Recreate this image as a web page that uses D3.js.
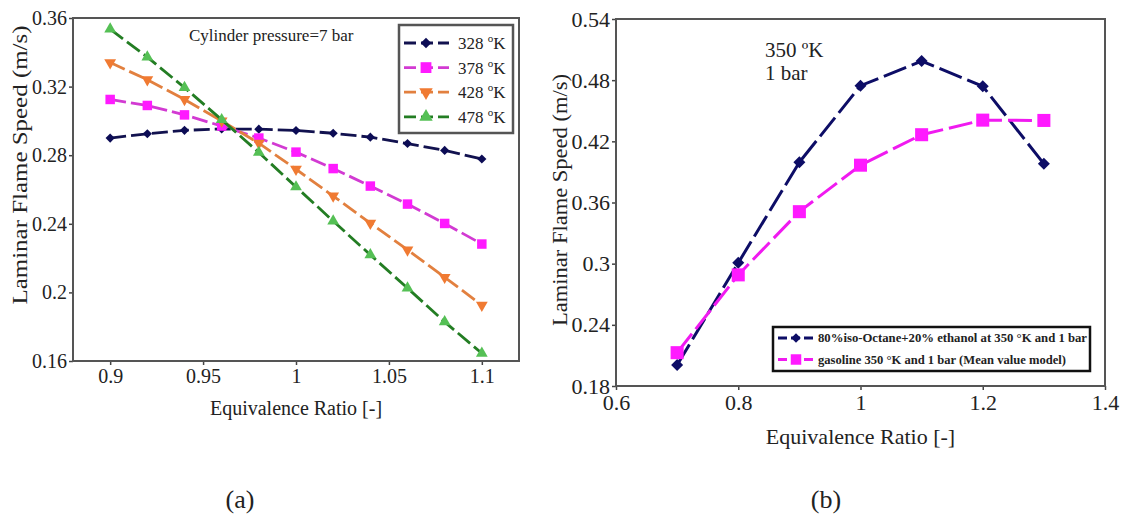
<!DOCTYPE html>
<html lang="en">
<head>
<meta charset="UTF-8">
<title>Laminar flame speed</title>
<script src="https://cdn.jsdelivr.net/npm/d3@7/dist/d3.min.js"></script>
<style>
  body { margin: 0; background: #fff; }
  text { font-family: "Liberation Serif", "Times New Roman", serif; fill: #222; }
</style>
</head>
<body>
<svg width="1125" height="518" id="mainsvg"></svg>
<script>
// ---- data (a): cylinder pressure 7 bar ----
const phiA = [0.9, 0.92, 0.94, 0.96, 0.98, 1.0, 1.02, 1.04, 1.06, 1.08, 1.1]
const s328 = [0.290, 0.2925, 0.2945, 0.2953, 0.2952, 0.2944, 0.2928, 0.2905, 0.2868, 0.2828, 0.2778]
const s378 = [0.3125, 0.309, 0.3035, 0.297, 0.290, 0.2818, 0.2722, 0.262, 0.2515, 0.2402, 0.2282]
const s428 = [0.334, 0.324, 0.3125, 0.300, 0.287, 0.2718, 0.2562, 0.2404, 0.2248, 0.2088, 0.1926]
const s478 = [0.3535, 0.3372, 0.3194, 0.3007, 0.2816, 0.2615, 0.2416, 0.2219, 0.2025, 0.1828, 0.1645]
const namesA = ['328', '378', '428', '478']
const xTicksA = [0.9, 0.95, 1, 1.05, 1.1]
const yTicksA = [0.16, 0.2, 0.24, 0.28, 0.32, 0.36]

// ---- data (b): 350 K, 1 bar ----
const phiB = [0.7, 0.8, 0.9, 1.0, 1.1, 1.2, 1.3]
const blend = [0.2005, 0.3008, 0.3995, 0.4746, 0.4987, 0.474, 0.398]
const gasoline = [0.2127, 0.289, 0.351, 0.3966, 0.4265, 0.4408, 0.4405]
const namesB = ['80%iso-Octane+20% ethanol at 350 °K and 1 bar', 'gasoline 350 °K and 1 bar (Mean value model)']
const xTicksB = [0.6, 0.8, 1, 1.2, 1.4]
const yTicksB = [0.18, 0.24, 0.3, 0.36, 0.42, 0.48, 0.54]

const svg = d3.select('#mainsvg')
const serif = '"Liberation Serif", "Times New Roman", serif'
const fmt = d => String(+d.toFixed(2))

// draws the boxed axes, returns scales
const drawFrame = function(g, o) {
    const x = d3.scaleLinear().domain(o.xd).range([o.left, o.right])
    const y = d3.scaleLinear().domain(o.yd).range([o.bottom, o.top])

    const xAxis = d3.axisBottom(x).tickValues(o.xt).tickFormat(fmt).tickSize(4).tickSizeOuter(0).tickPadding(4)
    const yAxis = d3.axisLeft(y).tickValues(o.yt).tickFormat(fmt).tickSize(4).tickSizeOuter(0).tickPadding(2)

    const xg = g.append('g').attr('transform', `translate(0,${o.bottom})`).call(xAxis)
    const yg = g.append('g').attr('transform', `translate(${o.left},0)`).call(yAxis)
    ;[xg, yg].forEach(a => {
        a.attr('font-family', serif)
        a.select('.domain').remove()
        a.selectAll('line').attr('stroke', '#444').attr('stroke-width', 1.5)
        a.selectAll('text').attr('font-size', o.fs).attr('fill', '#222')
    })

    g.append('rect')
        .attr('x', o.left).attr('y', o.top)
        .attr('width', o.right - o.left).attr('height', o.bottom - o.top)
        .attr('fill', 'none').attr('stroke', '#555').attr('stroke-width', 2)

    g.append('text').attr('x', (o.left + o.right) / 2).attr('y', o.xTitleY)
        .attr('text-anchor', 'middle').attr('font-size', o.fs).text('Equivalence Ratio [-]')

    g.append('text')
        .attr('transform', `translate(${o.yTitleX},${o.yTitleC}) rotate(-90)`)
        .attr('text-anchor', 'middle').attr('font-size', o.fs)
        .attr('textLength', o.yTitleLen).attr('lengthAdjust', 'spacingAndGlyphs')
        .text('Laminar Flame Speed (m/s)')
    return {x, y}
}

const marker = function(type, size) {
    if (type === 'diamond') return {p: d3.symbol(d3.symbolSquare, size)(), r: 45}
    if (type === 'square') return {p: d3.symbol(d3.symbolSquare, size)(), r: 0}
    if (type === 'up') return {p: d3.symbol(d3.symbolTriangle, size)(), r: 0}
    return {p: d3.symbol(d3.symbolTriangle, size)(), r: 180}
}

const drawSeries = function(g, sc, xs, ys, st) {
    const pts = xs.map((v, i) => [v, ys[i]])
    const line = d3.line().x(d => sc.x(d[0])).y(d => sc.y(d[1]))
    g.append('path').datum(pts)
        .attr('d', line).attr('fill', 'none')
        .attr('stroke', st.line).attr('stroke-width', st.w)
        .attr('stroke-dasharray', st.dash)
    const m = marker(st.shape, st.size)
    g.selectAll(null).data(pts).enter().append('path')
        .attr('d', m.p)
        .attr('transform', d => `translate(${sc.x(d[0])},${sc.y(d[1])}) rotate(${m.r})`)
        .attr('fill', st.mark)
}

// ---------- chart (a) ----------
const ga = svg.append('g')
const scA = drawFrame(ga, {
    xd: [0.88, 1.12], yd: [0.16, 0.36], left: 73, right: 519, top: 18, bottom: 361,
    xt: xTicksA, yt: yTicksA, fs: 20, xTitleY: 415, yTitleX: 27, yTitleC: 165, yTitleLen: 279
})

const stylesA = [
    {line: '#12124f', mark: '#0c0c55', shape: 'diamond', size: 42, w: 2.8, dash: '16,5'},
    {line: '#d23ad2', mark: '#ff1aff', shape: 'square', size: 90, w: 2.8, dash: '16,5'},
    {line: '#e2803f', mark: '#f07a32', shape: 'down', size: 60, w: 2.8, dash: '16,5'},
    {line: '#237d23', mark: '#55c055', shape: 'up', size: 60, w: 2.8, dash: '16,5'}
]
const seriesA = [s328, s378, s428, s478]
seriesA.forEach((s, i) => drawSeries(ga, scA, phiA, s, stylesA[i]))

ga.append('text').attr('x', 189).attr('y', 41).attr('font-size', 17).text('Cylinder pressure=7 bar')

// legend (a)
const legA = ga.append('g')
legA.append('rect').attr('x', 399).attr('y', 25).attr('width', 114).attr('height', 108)
    .attr('fill', '#fff').attr('stroke', '#555').attr('stroke-width', 2.5)
namesA.forEach((n, i) => {
    const cy = 43 + i * 24.6
    const st = stylesA[i]
    legA.append('line').attr('x1', 404).attr('x2', 449).attr('y1', cy).attr('y2', cy)
        .attr('stroke', st.line).attr('stroke-width', st.w).attr('stroke-dasharray', '12,5')
    const m = marker(st.shape, st.size * 1.3)
    legA.append('path').attr('d', m.p).attr('fill', st.mark)
        .attr('transform', `translate(426,${cy}) rotate(${m.r})`)
    const t = legA.append('text').attr('x', 458).attr('y', cy + 6).attr('font-size', 17)
    t.append('tspan').text(n + ' ')
    t.append('tspan').attr('font-size', 11).attr('dy', -7).text('o')
    t.append('tspan').attr('dy', 7).text('K')
})

// ---------- chart (b) ----------
const gb = svg.append('g')
const scB = drawFrame(gb, {
    xd: [0.6, 1.4], yd: [0.18, 0.54], left: 616, right: 1105, top: 19, bottom: 386,
    xt: xTicksB, yt: yTicksB, fs: 22, xTitleY: 444, yTitleX: 567, yTitleC: 200, yTitleLen: 252
})

const stylesB = [
    {line: '#0d0d66', mark: '#0d0d66', shape: 'diamond', size: 72, w: 3, dash: '24,6'},
    {line: '#f01af0', mark: '#ff1aff', shape: 'square', size: 170, w: 3, dash: '24,6'}
]
drawSeries(gb, scB, phiB, blend, stylesB[0])
drawSeries(gb, scB, phiB, gasoline, stylesB[1])

gb.append('text').attr('x', 765).attr('y', 57).attr('font-size', 21).text('350 ºK')
gb.append('text').attr('x', 765).attr('y', 80).attr('font-size', 21).text('1 bar')

// legend (b)
const legB = gb.append('g')
legB.append('rect').attr('x', 773).attr('y', 327).attr('width', 317).attr('height', 44)
    .attr('fill', '#fff').attr('stroke', '#111').attr('stroke-width', 2.5)
namesB.forEach((n, i) => {
    const cy = 338 + i * 21.5
    const st = stylesB[i]
    legB.append('line').attr('x1', 778).attr('x2', 813).attr('y1', cy).attr('y2', cy)
        .attr('stroke', st.line).attr('stroke-width', st.w).attr('stroke-dasharray', '9,4')
    const m = marker(st.shape, i === 0 ? 45 : 110)
    legB.append('path').attr('d', m.p).attr('fill', st.mark)
        .attr('transform', `translate(796,${cy}) rotate(${m.r})`)
    legB.append('text').attr('x', 818).attr('y', cy + 4).attr('font-size', 12)
        .attr('font-weight', 'bold').attr('textLength', i === 0 ? 269 : 248)
        .attr('lengthAdjust', 'spacingAndGlyphs').text(n)
})

// captions
svg.append('text').attr('x', 240).attr('y', 508).attr('text-anchor', 'middle').attr('font-size', 26).text('(a)')
svg.append('text').attr('x', 826).attr('y', 508).attr('text-anchor', 'middle').attr('font-size', 26).text('(b)')
</script>
</body>
</html>
